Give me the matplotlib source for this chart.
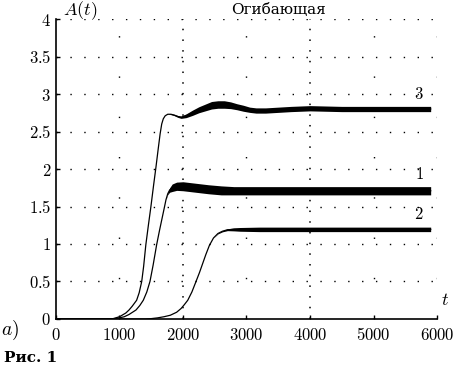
import numpy as np
import matplotlib.pyplot as plt
from matplotlib.ticker import FuncFormatter

plt.rcParams['mathtext.fontset'] = 'cm'
plt.rcParams['font.family'] = 'DejaVu Serif'

# curve 3
t3 = [0, 700, 900, 1000, 1100, 1150, 1200, 1270, 1310, 1350, 1380, 1415, 1455,
      1495, 1535, 1575, 1610, 1640, 1665, 1690, 1720, 1760, 1810, 1860, 1920,
      1970, 2050, 2150, 2250, 2350, 2450, 2550, 2650, 2750, 2850, 2950, 3050,
      3150, 3300, 3500, 3700, 4000, 4500, 5000, 5500, 5900]
a3 = [0, 0, 0.005, 0.03, 0.08, 0.12, 0.17, 0.25, 0.35, 0.5, 0.7, 0.99, 1.25,
      1.5, 1.77, 2.03, 2.27, 2.47, 2.6, 2.67, 2.71, 2.73, 2.73, 2.72, 2.70,
      2.69, 2.71, 2.75, 2.79, 2.82, 2.85, 2.86, 2.86, 2.85, 2.83, 2.81, 2.79,
      2.78, 2.78, 2.79, 2.80, 2.81, 2.80, 2.80, 2.80, 2.80]
w3 = [0, 0, 0, 0, 0, 0, 0, 0, 0, 0, 0, 0, 0,
      0, 0, 0, 0, 0, 0, 0, 0, 0, 0.005, 0.008, 0.012,
      0.015, 0.025, 0.035, 0.04, 0.045, 0.05, 0.05, 0.05, 0.045, 0.04, 0.04, 0.035,
      0.035, 0.035, 0.035, 0.035, 0.035, 0.035, 0.035, 0.035, 0.035]

# curve 1
t1 = [0, 900, 1000, 1075, 1150, 1260, 1320, 1375, 1430, 1480, 1530, 1585,
      1630, 1680, 1705, 1732, 1760, 1790, 1830, 1900, 2000, 2100, 2200, 2400,
      2600, 2800, 3000, 3500, 4000, 5000, 5900]
a1 = [0, 0, 0.015, 0.03, 0.06, 0.12, 0.18, 0.25, 0.36, 0.5, 0.72, 0.99,
      1.18, 1.38, 1.48, 1.59, 1.67, 1.72, 1.75, 1.77, 1.77, 1.76, 1.75, 1.73,
      1.715, 1.71, 1.71, 1.71, 1.71, 1.71, 1.71]
w1 = [0, 0, 0, 0, 0, 0, 0, 0, 0, 0, 0, 0,
      0, 0, 0, 0, 0.01, 0.03, 0.05, 0.055, 0.06, 0.06, 0.06, 0.06,
      0.06, 0.055, 0.055, 0.055, 0.055, 0.055, 0.055]

# curve 2
t2 = [0, 1400, 1500, 1600, 1700, 1800, 1900, 1970, 2020, 2075, 2140, 2205,
      2260, 2310, 2360, 2415, 2480, 2550, 2620, 2700, 2800, 2900, 3200, 4000,
      5000, 5900]
a2 = [0, 0, 0.005, 0.015, 0.03, 0.05, 0.09, 0.14, 0.19, 0.25, 0.36, 0.5,
      0.62, 0.74, 0.86, 0.98, 1.08, 1.14, 1.17, 1.19, 1.195, 1.195, 1.195, 1.195,
      1.195, 1.195]
w2 = [0, 0, 0, 0, 0, 0, 0, 0, 0, 0, 0, 0,
      0, 0, 0, 0, 0, 0.005, 0.008, 0.012, 0.02, 0.025, 0.03, 0.03,
      0.03, 0.03]

curves = [(t3, a3, w3, '3'), (t1, a1, w1, '1'), (t2, a2, w2, '2')]

fig = plt.figure(figsize=(4.54, 3.67), dpi=100)
ax = fig.add_axes([0.1233, 0.1308, 0.8393, 0.8174])

for t, a, w, lab in curves:
    t = np.array(t)
    a = np.array(a)
    w = np.array(w)
    ax.plot(t, a, color='black', lw=0.9)
    ax.fill_between(t, a - w, a + w, color='black', lw=0)
    ax.text(5720, a[-1] + w[-1] + 0.05, '$' + lab + '$', fontsize=12,
            ha='center', va='bottom')

# dotted grid
for y in np.arange(0.5, 4.01, 0.5):
    ax.axhline(y, color='black', lw=1, ls=(0, (1, 9)), zorder=0)
for x in [2000, 4000]:
    ax.axvline(x, color='black', lw=1.1, ls=(0, (1, 6)), zorder=0)
for x in [1000, 3000, 5000, 6000]:
    ax.axvline(x, color='black', lw=1, ls=(0, (1, 28)), zorder=0)

ax.set_xlim(0, 6000)
ax.set_ylim(0, 4)
ax.set_xticks(np.arange(0, 6001, 1000))
ax.set_yticks(np.arange(0, 4.01, 0.5))
ax.xaxis.set_major_formatter(FuncFormatter(lambda v, p: r'$\mathbf{%d}$' % v))
ax.yaxis.set_major_formatter(FuncFormatter(lambda v, p: r'$\mathbf{%g}$' % v))
ax.tick_params(direction='in', length=3, labelsize=12, width=1)
ax.tick_params(axis='x', pad=6)
ax.spines['top'].set_visible(False)
ax.spines['right'].set_visible(False)
ax.spines['left'].set_linewidth(1.2)
ax.spines['bottom'].set_linewidth(1.2)

fig.text(63 / 454, 1 - 11 / 367, r'$A(t)$', fontsize=13, va='center')
fig.text(278 / 454, 1 - 10 / 367, 'Огибающая', fontsize=11, va='center',
         ha='center')
fig.text(441 / 454, 1 - 300 / 367, r'$t$', fontsize=13, va='center')
fig.text(1 / 454, 1 - 330 / 367, r'$a)$', fontsize=14, va='center')
fig.text(4 / 454, 1 - 358 / 367, 'Рис. 1', fontsize=11, va='center',
         weight='bold')

fig.savefig('out.png', dpi=100)
